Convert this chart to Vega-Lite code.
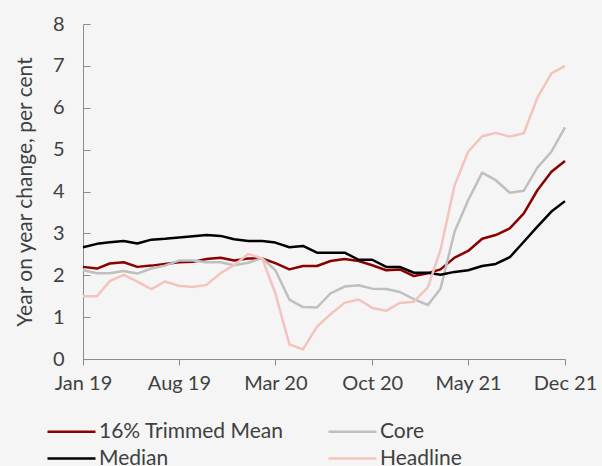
{
  "$schema": "https://vega.github.io/schema/vega-lite/v6.json",
  "width": 482,
  "height": 335,
  "autosize": {"type": "none"},
  "padding": {"left": 83, "top": 24, "right": 37, "bottom": 107},
  "background": "#f5f5f5",
  "config": {
    "view": {"stroke": null},
    "font": "Lato",
    "axis": {"labelFont": "Lato", "titleFont": "Lato", "labelColor": "#404040", "titleColor": "#404040", "domainColor": "#8c8c8c", "tickColor": "#8c8c8c", "grid": false}
  },
  "data": {
    "values": [
      {"d": "2019-01-01", "16% Trimmed Mean": 2.20, "Core": 2.12, "Median": 2.67, "Headline": 1.50},
      {"d": "2019-02-01", "16% Trimmed Mean": 2.16, "Core": 2.05, "Median": 2.75, "Headline": 1.50},
      {"d": "2019-03-01", "16% Trimmed Mean": 2.28, "Core": 2.05, "Median": 2.79, "Headline": 1.86},
      {"d": "2019-04-01", "16% Trimmed Mean": 2.31, "Core": 2.10, "Median": 2.82, "Headline": 2.01},
      {"d": "2019-05-01", "16% Trimmed Mean": 2.20, "Core": 2.04, "Median": 2.76, "Headline": 1.85},
      {"d": "2019-06-01", "16% Trimmed Mean": 2.23, "Core": 2.16, "Median": 2.85, "Headline": 1.67},
      {"d": "2019-07-01", "16% Trimmed Mean": 2.27, "Core": 2.23, "Median": 2.87, "Headline": 1.85},
      {"d": "2019-08-01", "16% Trimmed Mean": 2.31, "Core": 2.35, "Median": 2.90, "Headline": 1.75},
      {"d": "2019-09-01", "16% Trimmed Mean": 2.32, "Core": 2.35, "Median": 2.93, "Headline": 1.72},
      {"d": "2019-10-01", "16% Trimmed Mean": 2.39, "Core": 2.31, "Median": 2.96, "Headline": 1.77},
      {"d": "2019-11-01", "16% Trimmed Mean": 2.42, "Core": 2.31, "Median": 2.94, "Headline": 2.05},
      {"d": "2019-12-01", "16% Trimmed Mean": 2.35, "Core": 2.24, "Median": 2.86, "Headline": 2.24},
      {"d": "2020-01-01", "16% Trimmed Mean": 2.40, "Core": 2.30, "Median": 2.82, "Headline": 2.51},
      {"d": "2020-02-01", "16% Trimmed Mean": 2.40, "Core": 2.41, "Median": 2.82, "Headline": 2.40},
      {"d": "2020-03-01", "16% Trimmed Mean": 2.29, "Core": 2.12, "Median": 2.78, "Headline": 1.57},
      {"d": "2020-04-01", "16% Trimmed Mean": 2.14, "Core": 1.42, "Median": 2.67, "Headline": 0.35},
      {"d": "2020-05-01", "16% Trimmed Mean": 2.22, "Core": 1.24, "Median": 2.70, "Headline": 0.23},
      {"d": "2020-06-01", "16% Trimmed Mean": 2.22, "Core": 1.23, "Median": 2.54, "Headline": 0.77},
      {"d": "2020-07-01", "16% Trimmed Mean": 2.34, "Core": 1.57, "Median": 2.54, "Headline": 1.07},
      {"d": "2020-08-01", "16% Trimmed Mean": 2.39, "Core": 1.73, "Median": 2.54, "Headline": 1.34},
      {"d": "2020-09-01", "16% Trimmed Mean": 2.34, "Core": 1.76, "Median": 2.37, "Headline": 1.42},
      {"d": "2020-10-01", "16% Trimmed Mean": 2.24, "Core": 1.68, "Median": 2.37, "Headline": 1.22},
      {"d": "2020-11-01", "16% Trimmed Mean": 2.12, "Core": 1.67, "Median": 2.20, "Headline": 1.15},
      {"d": "2020-12-01", "16% Trimmed Mean": 2.14, "Core": 1.60, "Median": 2.20, "Headline": 1.34},
      {"d": "2021-01-01", "16% Trimmed Mean": 1.98, "Core": 1.43, "Median": 2.06, "Headline": 1.37},
      {"d": "2021-02-01", "16% Trimmed Mean": 2.05, "Core": 1.29, "Median": 2.06, "Headline": 1.71},
      {"d": "2021-03-01", "16% Trimmed Mean": 2.14, "Core": 1.68, "Median": 2.01, "Headline": 2.61},
      {"d": "2021-04-01", "16% Trimmed Mean": 2.42, "Core": 3.04, "Median": 2.08, "Headline": 4.15},
      {"d": "2021-05-01", "16% Trimmed Mean": 2.58, "Core": 3.79, "Median": 2.12, "Headline": 4.95},
      {"d": "2021-06-01", "16% Trimmed Mean": 2.87, "Core": 4.45, "Median": 2.22, "Headline": 5.32},
      {"d": "2021-07-01", "16% Trimmed Mean": 2.96, "Core": 4.27, "Median": 2.27, "Headline": 5.40},
      {"d": "2021-08-01", "16% Trimmed Mean": 3.12, "Core": 3.97, "Median": 2.43, "Headline": 5.31},
      {"d": "2021-09-01", "16% Trimmed Mean": 3.48, "Core": 4.02, "Median": 2.80, "Headline": 5.39},
      {"d": "2021-10-01", "16% Trimmed Mean": 4.03, "Core": 4.57, "Median": 3.16, "Headline": 6.24},
      {"d": "2021-11-01", "16% Trimmed Mean": 4.47, "Core": 4.95, "Median": 3.52, "Headline": 6.82},
      {"d": "2021-12-01", "16% Trimmed Mean": 4.73, "Core": 5.53, "Median": 3.77, "Headline": 7.00}
    ]
  },
  "transform": [
    {"fold": ["16% Trimmed Mean", "Core", "Median", "Headline"], "as": ["series", "value"]}
  ],
  "mark": {"type": "line", "strokeWidth": 2.5, "strokeJoin": "round"},
  "encoding": {
    "x": {
      "field": "d", "type": "temporal",
      "scale": {"type": "utc", "domain": [{"year": 2019, "month": 1, "date": 1, "utc": true}, {"year": 2021, "month": 12, "date": 1, "utc": true}], "nice": false},
      "axis": {
        "title": null, "format": "%b %y", "labelFontSize": 20, "labelPadding": 8, "tickSize": 6,
        "values": [
          {"year": 2019, "month": 1, "date": 1, "utc": true},
          {"year": 2019, "month": 8, "date": 1, "utc": true},
          {"year": 2020, "month": 3, "date": 1, "utc": true},
          {"year": 2020, "month": 10, "date": 1, "utc": true},
          {"year": 2021, "month": 5, "date": 1, "utc": true},
          {"year": 2021, "month": 12, "date": 1, "utc": true}
        ],
        "labelOverlap": false, "labelFlush": false
      }
    },
    "y": {
      "field": "value", "type": "quantitative",
      "scale": {"domain": [0, 8], "nice": false},
      "axis": {"title": "Year on year change, per cent", "titleFontSize": 21, "titleFontWeight": "normal", "labelFontSize": 20, "values": [0,1,2,3,4,5,6,7,8], "tickSize": -7, "labelPadding": 26, "titleX": -58, "titleBaseline": "middle", "titleAnchor": "middle"}
    },
    "color": {
      "field": "series", "type": "nominal",
      "scale": {"domain": ["16% Trimmed Mean", "Core", "Median", "Headline"], "range": ["#8b0000", "#bfbfbf", "#000000", "#f2c4bc"]},
      "legend": {
        "title": null, "orient": "none", "legendX": -13, "legendY": 394, "columns": 2, "direction": "horizontal",
        "symbolType": "M-3,0H1", "symbolSize": 576, "symbolStrokeWidth": 2.5, "symbolFillColor": "transparent",
        "labelFont": "Lato", "labelFontSize": 21, "labelColor": "#404040", "labelOffset": 2,
        "columnPadding": 39, "rowPadding": 3, "labelLimit": 300
      }
    },
    "order": {"field": "series"}
  }
}
